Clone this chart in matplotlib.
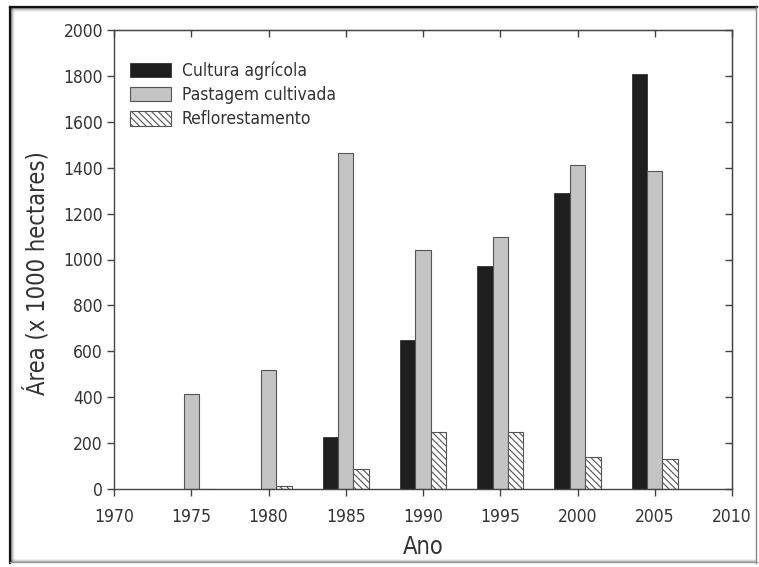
import numpy as np
import matplotlib
matplotlib.use('Agg')
import matplotlib.pyplot as plt
from matplotlib.lines import Line2D

plt.rcParams['font.family'] = ['DejaVu Sans']
plt.rcParams['font.stretch'] = 'condensed'
plt.rcParams['hatch.color'] = '#444444'
plt.rcParams['hatch.linewidth'] = 0.8

anos = [1975, 1980, 1985, 1990, 1995, 2000, 2005]
cultura = [0, 0, 225, 650, 970, 1290, 1810]
pastagem = [415, 520, 1465, 1040, 1100, 1410, 1385]
reflorest = [0, 15, 85, 250, 250, 140, 130]

fig = plt.figure(figsize=(7.59, 5.67), dpi=100)
ax = fig.add_axes([114/759, 1 - 489/567, 618/759, 459/567])

x = np.array(anos)
edge = '#555555'
ax.bar(x - 1, cultura, width=1, color='#1e1e1e', edgecolor='#333333', linewidth=0.6,
       label='Cultura agrícola')
ax.bar(x, pastagem, width=1, color='#c4c4c4', edgecolor=edge, linewidth=0.8,
       label='Pastagem cultivada')
ax.bar(x + 1, reflorest, width=1, color='white', edgecolor=edge, linewidth=0.8,
       hatch='\\\\\\\\\\', label='Reflorestamento')

ax.set_xlim(1970, 2010)
ax.set_ylim(0, 2000)
ax.set_xticks(range(1970, 2011, 5))
ax.set_yticks(range(0, 2001, 200))
for s in ax.spines.values():
    s.set_color('#444444')
    s.set_linewidth(1.0)
ax.tick_params(direction='out', length=5, width=1, colors='#444444',
               labelcolor='#333333', labelsize=12.5)
ax.tick_params(axis='x', pad=9)
ax.tick_params(axis='y', pad=3)

# inward ticks on the top and right sides
top = ax.secondary_xaxis('top')
top.set_xticks(range(1970, 2011, 5))
top.tick_params(direction='in', length=5, width=1, colors='#444444', labeltop=False)
right = ax.secondary_yaxis('right')
right.set_yticks(range(0, 2001, 200))
right.tick_params(direction='in', length=5, width=1, colors='#444444', labelright=False)

ax.set_xlabel('Ano', fontsize=17, color='#333333')
ax.xaxis.set_label_coords(0.5, -0.1)
ax.set_ylabel('Área (x 1000 hectares)', fontsize=17, color='#333333')
ax.yaxis.set_label_coords(-0.104, 0.47)

ax.legend(loc='upper left', bbox_to_anchor=(0.0, 0.965), frameon=False, fontsize=12.5,
          handlelength=2.4, handleheight=0.9, handletextpad=0.6, labelspacing=0.35,
          labelcolor='#333333')

# outer border: dark on top/left with a soft inner shadow, light on right/bottom
W, H = 759, 567
def fline(xs, ys, **kw):
    fig.add_artist(Line2D([v / W for v in xs], [1 - v / H for v in ys],
                          transform=fig.transFigure, **kw))

for i, a in enumerate([0.35, 0.2, 0.1, 0.05]):
    fline([11 + i, 11 + i], [8 + i, 562], color='black', alpha=a, lw=1.2)
    fline([11 + i, 756], [8 + i, 8 + i], color='black', alpha=a, lw=1.2)
for i, a in enumerate([0.25, 0.12, 0.06]):
    fline([11, 756], [562 - i, 562 - i], color='black', alpha=a, lw=1.2)
fline([10, 10], [7, 563], color='#111111', lw=1.6)
fline([10, 757], [7, 7], color='#111111', lw=1.6)
fline([756, 756], [7, 563], color='#888888', lw=1.0)
fline([10, 757], [562, 562], color='#999999', lw=1.0)

fig.savefig('out.png', dpi=100)
